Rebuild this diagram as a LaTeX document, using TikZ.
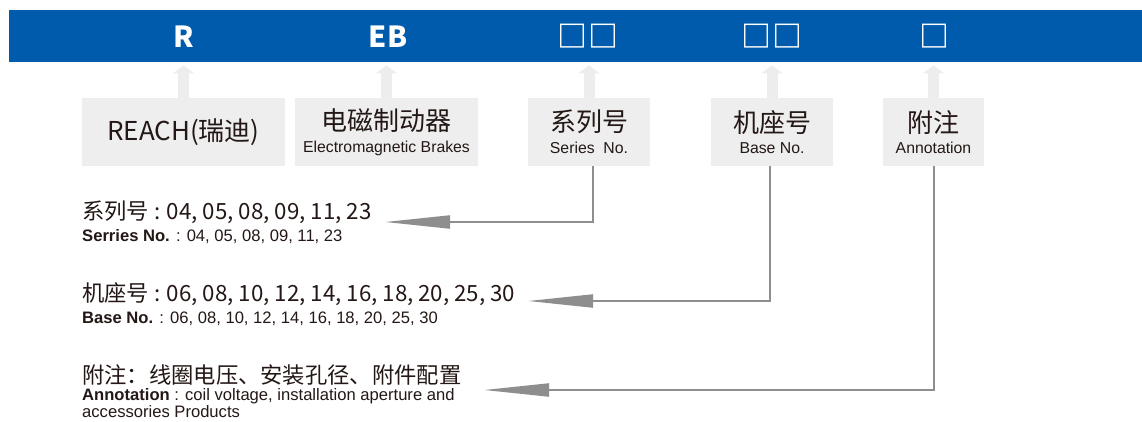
\documentclass[tikz,border=0pt]{standalone}
\usepackage{fontspec}
\newfontfamily\cjk{Noto Sans CJK SC}
\newfontfamily\arial{Liberation Sans}
\usetikzlibrary{arrows.meta}
\definecolor{barblue}{HTML}{005BAC}
\definecolor{boxgray}{HTML}{EEEEEE}
\definecolor{upgray}{HTML}{EDEDED}
\definecolor{linegray}{HTML}{8E8E8E}
\definecolor{ink}{HTML}{231815}
\tikzset{
  codetext/.style={text=white, inner sep=0pt, font=\cjk\bfseries\fontsize{29}{29}\selectfont},
  sqtext/.style={text=white, inner sep=0pt, font=\cjk\bfseries\fontsize{30}{30}\selectfont},
  infobox/.style={fill=boxgray, inner sep=0pt, minimum height=68pt, text=ink, align=center},
  uparrow/.style={draw=upgray, line width=11pt, shorten >=3pt, -{Triangle[length=8pt 0 0, width=21pt 0 0]}},
  conn/.style={draw=linegray, line width=2pt, -{Triangle[length=65pt 0 0, width=13pt 0 0]}},
  bigline/.style={anchor=west, inner sep=0pt, text=ink, font=\cjk\fontsize{22.3}{22.3}\selectfont},
  smallline/.style={anchor=west, inner sep=0pt, text=ink, font=\arial\fontsize{16.6}{16.6}\selectfont},
}
\newcommand{\boxcn}[1]{{\cjk\fontsize{26}{26}\selectfont #1}}
\newcommand{\boxen}[1]{{\arial\fontsize{15.8}{15.8}\selectfont #1}}
\begin{document}
\begin{tikzpicture}[x=1pt,y=-1pt]
\useasboundingbox (0,0) rectangle (1142,421);
\fill[white] (0,0) rectangle (1142,421);
% blue bar
\node[fill=barblue, minimum width=1133pt, minimum height=52pt, inner sep=0pt, anchor=north west] (bar) at (9,10) {};
\node[codetext] (l1) at (183.5,37) {R};
\node[codetext] (l2) at (388,37) {EB};
\node[sqtext] (l3) at (588,36) {□\hspace{1pt}□};
\node[sqtext] (l4) at (772,36) {□\hspace{1pt}□};
\node[sqtext] (l5) at (934,36) {□};
% grey boxes
\node[infobox, minimum width=203pt] (b1) at (183.5,132) {\boxcn{REACH(瑞迪)}};
\node[infobox, minimum width=183pt] (b2) at (386.5,132) {\boxcn{电磁制动器}\\[7pt]\boxen{Electromagnetic Brakes}};
\node[infobox, minimum width=122pt] (b3) at (589,132) {\boxcn{系列号}\\[7pt]\boxen{Series\ \ No.}};
\node[infobox, minimum width=122pt] (b4) at (772,132) {\boxcn{机座号}\\[7pt]\boxen{Base No.}};
\node[infobox, minimum width=101pt] (b5) at (933.5,132) {\boxcn{附注}\\[7pt]\boxen{Annotation}};
% up arrows
\foreach \b in {b1,b2,b3,b4,b5}{
  \draw[uparrow] (\b.north) -- (\b.north |- bar.south);
}
% text lines
\node[bigline] (t1) at (82,212) {系列号 : 04, 05, 08, 09, 11, 23};
\node[smallline] (t1e) at (82,237) {\textbf{Serries No.} : 04, 05, 08, 09, 11, 23};
\node[bigline] (t2) at (82,294) {机座号 : 06, 08, 10, 12, 14, 16, 18, 20, 25, 30};
\node[smallline] (t2e) at (82,319) {\textbf{Base No.} : 06, 08, 10, 12, 14, 16, 18, 20, 25, 30};
\node[bigline] (t3) at (82,375) {附注：线圈电压、安装孔径、附件配置};
\node[smallline] (t3e) at (82,396) {\textbf{Annotation} : coil voltage, installation aperture and};
\node[smallline] (t3f) at (82,412) {accessories Products};
% connector end points
\coordinate (a1) at (385,222);
\coordinate (a2) at (528,301);
\coordinate (a3) at (484,390);
\draw[conn] ([xshift=4pt]b3.south) |- (a1);
\draw[conn] ([xshift=-2pt]b4.south) |- (a2);
\draw[conn] (b5.south) |- (a3);
\end{tikzpicture}
\end{document}
